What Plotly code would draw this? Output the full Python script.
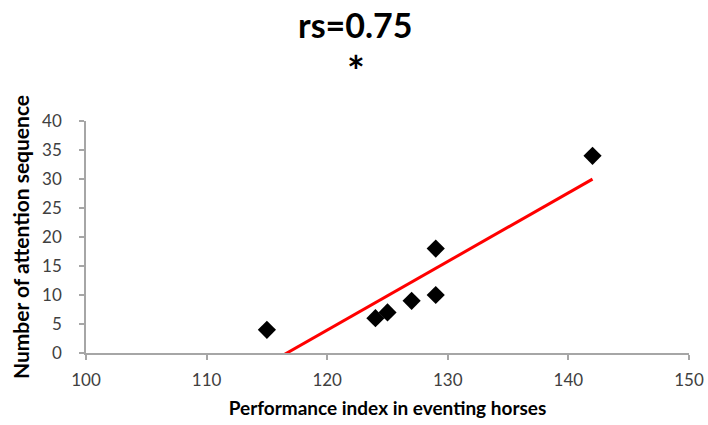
import numpy as np
import plotly.graph_objects as go

# Data
performance_index = [115, 124, 125, 127, 129, 129, 142]
attention_sequences = [4, 6, 7, 9, 10, 18, 34]

x_ticks = [100, 110, 120, 130, 140, 150]
y_ticks = [0, 5, 10, 15, 20, 25, 30, 35, 40]

title_line1 = "rs=0.75"
title_line2 = "*"
x_title = "Performance index in eventing horses"
y_title = "Number of attention sequence"

# Linear trend line (least squares), spanning the data's x range
slope, intercept = np.polyfit(performance_index, attention_sequences, 1)
trend_x = [min(performance_index), max(performance_index)]
trend_y = [slope * v + intercept for v in trend_x]

FONT = "Lato"
AXIS_GRAY = "#a6a6a6"
LABEL_GRAY = "#404040"

fig = go.Figure()
fig.add_trace(go.Scatter(
    x=trend_x, y=trend_y, mode="lines",
    line=dict(color="#ff0000", width=3),
    showlegend=False, hoverinfo="skip",
))
fig.add_trace(go.Scatter(
    x=performance_index, y=attention_sequences, mode="markers",
    marker=dict(symbol="diamond", size=14, color="black"),
    showlegend=False,
))

fig.add_annotation(
    text=title_line1, xref="paper", yref="paper", x=0.447, y=1.415,
    xanchor="center", yanchor="middle", showarrow=False,
    font=dict(family=FONT, size=34, color="black", weight="bold"),
)
fig.add_annotation(
    text=title_line2, xref="paper", yref="paper", x=0.447, y=1.215,
    xanchor="center", yanchor="middle", showarrow=False,
    font=dict(family=FONT, size=42, color="black", weight="bold"),
)

fig.update_layout(
    width=708, height=425,
    margin=dict(l=86, r=19, t=121, b=72, pad=0),
    paper_bgcolor="white", plot_bgcolor="white",
    font=dict(family=FONT, color=LABEL_GRAY, size=17),
    xaxis=dict(
        range=[100, 150], tickvals=x_ticks, ticktext=[str(v) for v in x_ticks],
        showgrid=False, zeroline=False, automargin=False,
        showline=True, linecolor=AXIS_GRAY, linewidth=1.5,
        ticks="outside", ticklen=5, tickcolor=AXIS_GRAY, tickwidth=1.5,
        ticklabelstandoff=6,
        tickfont=dict(family=FONT, size=17, color=LABEL_GRAY),
        title=dict(text=x_title, standoff=13,
                   font=dict(family=FONT, size=19, color="black", weight="bold")),
    ),
    yaxis=dict(
        range=[0, 40], tickvals=y_ticks, ticktext=[str(v) for v in y_ticks],
        showgrid=False, zeroline=False, automargin=False,
        showline=True, linecolor=AXIS_GRAY, linewidth=1.5,
        ticks="outside", ticklen=5, tickcolor=AXIS_GRAY, tickwidth=1.5,
        ticklabelstandoff=14,
        tickfont=dict(family=FONT, size=17, color=LABEL_GRAY),
        title=dict(text=y_title, standoff=7,
                   font=dict(family=FONT, size=21, color="black", weight="bold")),
    ),
)

fig.write_html("out.html", config={"displayModeBar": False},
               post_script="document.body.style.margin='0';")
